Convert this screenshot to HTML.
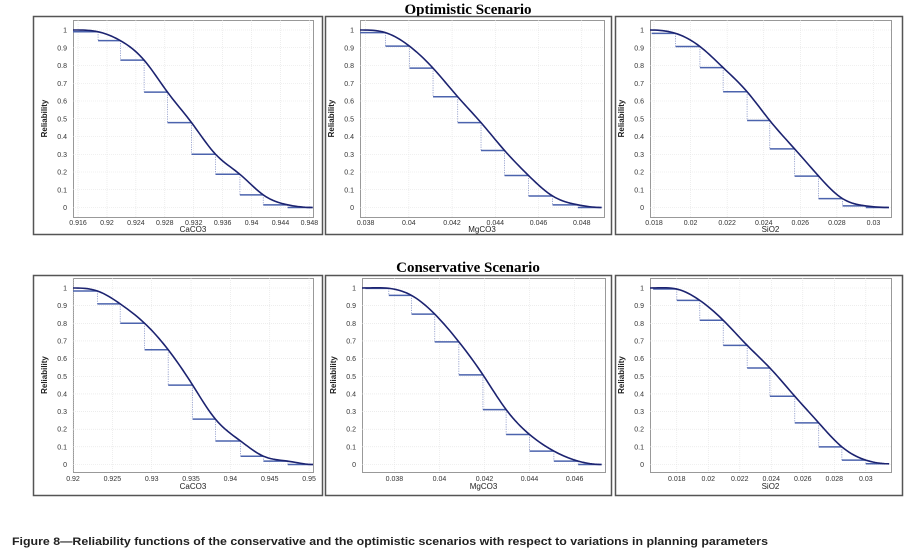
<!DOCTYPE html>
<html><head><meta charset="utf-8">
<style>
html,body{margin:0;padding:0;background:#fff;}
svg{display:block;}
</style></head>
<body>
<svg id="fig" width="908" height="557" viewBox="0 0 908 557" xmlns="http://www.w3.org/2000/svg">
<text x="468" y="14" text-anchor="middle" font-family="Liberation Serif, serif" font-weight="bold" font-size="15">Optimistic Scenario</text>
<text x="468" y="272" text-anchor="middle" font-family="Liberation Serif, serif" font-weight="bold" font-size="15">Conservative Scenario</text>
<text x="12" y="545" textLength="756" lengthAdjust="spacingAndGlyphs" font-family="Liberation Sans, sans-serif" font-weight="bold" font-size="11" fill="#222">Figure 8—Reliability functions of the conservative and the optimistic scenarios with respect to variations in planning parameters</text>
</svg>
<script>
// ---- data ----
const p1Ticks = [0.916,0.92,0.924,0.928,0.932,0.936,0.94,0.944,0.948];
const p1TickLabels = ["0.916","0.92","0.924","0.928","0.932","0.936","0.94","0.944","0.948"];
const p1Edges = [0.9153,0.91877,0.92186,0.92514,0.92837,0.9317,0.93502,0.93839,0.94162,0.94499,0.94846];
const p1Levels = [0.99,0.94,0.83,0.65,0.478,0.30,0.187,0.071,0.015,0.0];

const p2Ticks = [0.038,0.04,0.042,0.044,0.046,0.048];
const p2TickLabels = ["0.038","0.04","0.042","0.044","0.046","0.048"];
const p2Edges = [0.03774,0.03892,0.04003,0.04112,0.04226,0.04334,0.04443,0.04554,0.04665,0.04782,0.04892];
const p2Levels = [0.985,0.909,0.785,0.624,0.478,0.321,0.18,0.065,0.015,0.0];

const p3Ticks = [0.018,0.02,0.022,0.024,0.026,0.028,0.03];
const p3TickLabels = ["0.018","0.02","0.022","0.024","0.026","0.028","0.03"];
const p3Edges = [0.01787,0.01918,0.02051,0.02178,0.02309,0.02433,0.02569,0.027,0.02831,0.02958,0.03085];
const p3Levels = [0.981,0.907,0.788,0.652,0.49,0.33,0.177,0.05,0.009,0.0];

const p4Ticks = [0.92,0.925,0.93,0.935,0.94,0.945,0.95];
const p4TickLabels = ["0.92","0.925","0.93","0.935","0.94","0.945","0.95"];
const p4Edges = [0.92,0.9231,0.926,0.9291,0.9321,0.9352,0.9381,0.9413,0.9442,0.9473,0.9505];
const p4Levels = [0.983,0.91,0.80,0.65,0.45,0.257,0.133,0.047,0.019,0.0];

const p5Ticks = [0.038,0.04,0.042,0.044,0.046];
const p5TickLabels = ["0.038","0.04","0.042","0.044","0.046"];
const p5Edges = [0.03671,0.03775,0.03876,0.03979,0.04086,0.04193,0.04296,0.044,0.04508,0.04616,0.0472];
const p5Levels = [0.998,0.958,0.852,0.695,0.508,0.311,0.17,0.076,0.019,0.0];

const p6Ticks = [0.018,0.02,0.022,0.024,0.026,0.028,0.03];
const p6TickLabels = ["0.018","0.02","0.022","0.024","0.026","0.028","0.03"];
const p6Edges = [0.0165,0.018,0.01946,0.02095,0.02247,0.02391,0.02549,0.02701,0.02848,0.03,0.03148];
const p6Levels = [0.994,0.93,0.817,0.675,0.547,0.387,0.236,0.10,0.025,0.004];

const yTicks = [0,0.1,0.2,0.3,0.4,0.5,0.6,0.7,0.8,0.9,1];
const yTickLabels = ["0","0.1","0.2","0.3","0.4","0.5","0.6","0.7","0.8","0.9","1"];

const panels = [
 {id:"optimistic-caco3",name:"CaCO3",box:[33,16,322,234],plot:[73,20,313,217],y1:30,y0:207.5,xmin:0.9153,xmax:0.9485,ticks:p1Ticks,labels:p1TickLabels,edges:p1Edges,levels:p1Levels,tb:225,lb:232},
 {id:"optimistic-mgco3",name:"MgCO3",box:[325,16,611,234],plot:[360,20,604,217],y1:30,y0:207.5,xmin:0.03774,xmax:0.04903,ticks:p2Ticks,labels:p2TickLabels,edges:p2Edges,levels:p2Levels,tb:225,lb:232},
 {id:"optimistic-sio2",name:"SiO2",box:[615,16,902,234],plot:[650,20,891,217],y1:30,y0:207.5,xmin:0.01778,xmax:0.03096,ticks:p3Ticks,labels:p3TickLabels,edges:p3Edges,levels:p3Levels,tb:225,lb:232},
 {id:"conservative-caco3",name:"CaCO3",box:[33,275,322,495],plot:[73,278,313,472],y1:288,y0:464.5,xmin:0.92,xmax:0.9505,ticks:p4Ticks,labels:p4TickLabels,edges:p4Edges,levels:p4Levels,tb:481,lb:489},
 {id:"conservative-mgco3",name:"MgCO3",box:[325,275,611,495],plot:[362,278,605,472],y1:288,y0:464.5,xmin:0.03656,xmax:0.04735,ticks:p5Ticks,labels:p5TickLabels,edges:p5Edges,levels:p5Levels,tb:481,lb:489},
 {id:"conservative-sio2",name:"SiO2",box:[615,275,902,495],plot:[650,278,891,472],y1:288,y0:464.5,xmin:0.0163,xmax:0.0316,ticks:p6Ticks,labels:p6TickLabels,edges:p6Edges,levels:p6Levels,tb:481,lb:489}
];

const NS="http://www.w3.org/2000/svg";
const svg=document.getElementById('fig');
function mk(tag,attrs,parent){const e=document.createElementNS(NS,tag);for(const k in attrs)e.setAttribute(k,attrs[k]);(parent||svg).appendChild(e);return e;}

// natural cubic spline through points (pixel coords), sampled finely
function splinePath(pts){
  const n=pts.length, xs=pts.map(p=>p[0]), ys=pts.map(p=>p[1]);
  const h=[],a=new Array(n).fill(0),b=new Array(n).fill(0),c=new Array(n).fill(0),r=new Array(n).fill(0),M=new Array(n).fill(0);
  for(let i=0;i<n-1;i++) h[i]=xs[i+1]-xs[i];
  // endpoint slope zero-ish: clamped spline with zero slope at ends
  b[0]=2*h[0]; c[0]=h[0]; r[0]=6*((ys[1]-ys[0])/h[0]-0);
  for(let i=1;i<n-1;i++){a[i]=h[i-1];b[i]=2*(h[i-1]+h[i]);c[i]=h[i];r[i]=6*((ys[i+1]-ys[i])/h[i]-(ys[i]-ys[i-1])/h[i-1]);}
  a[n-1]=h[n-2]; b[n-1]=2*h[n-2]; r[n-1]=6*(0-(ys[n-1]-ys[n-2])/h[n-2]);
  for(let i=1;i<n;i++){const m=a[i]/b[i-1];b[i]-=m*c[i-1];r[i]-=m*r[i-1];}
  M[n-1]=r[n-1]/b[n-1];
  for(let i=n-2;i>=0;i--) M[i]=(r[i]-c[i]*M[i+1])/b[i];
  let d="M"+xs[0].toFixed(2)+","+ys[0].toFixed(2);
  for(let i=0;i<n-1;i++){
    const steps=10;
    for(let k=1;k<=steps;k++){
      const x=xs[i]+h[i]*k/steps, A=(xs[i+1]-x)/h[i], B=(x-xs[i])/h[i];
      let y=A*ys[i]+B*ys[i+1]+((A*A*A-A)*M[i]+(B*B*B-B)*M[i+1])*h[i]*h[i]/6;
      d+=" L"+x.toFixed(2)+","+y.toFixed(2);
    }
  }
  return d;
}

panels.forEach(p=>{
  const g=mk('g',{});
  
  
  const X=v=>p.plot[0]+(v-p.xmin)/(p.xmax-p.xmin)*(p.plot[2]-p.plot[0]);
  const Y=v=>p.y0-v*(p.y0-p.y1);
  const box=mk('rect',{x:p.box[0]+0.5,y:p.box[1]+0.5,width:p.box[2]-p.box[0],height:p.box[3]-p.box[1],fill:'#fff',stroke:'#555','stroke-width':1.5},g);
  
  
  const pa=mk('rect',{x:p.plot[0]+0.5,y:p.plot[1]+0.5,width:p.plot[2]-p.plot[0],height:p.plot[3]-p.plot[1],fill:'#fff',stroke:'#999','stroke-width':1},g);
  
  
  yTicks.forEach((v,i)=>{
    const gl=mk('line',{x1:p.plot[0],x2:p.plot[2],y1:Y(v),y2:Y(v),stroke:'#e2e2e2','stroke-width':0.6,'stroke-dasharray':'1,1'},g);
    
    
    const t=mk('text',{x:p.plot[0]-6,y:Y(v)+2.5,'text-anchor':'end','font-family':'Liberation Sans, sans-serif','font-size':7,fill:'#333'},g);
    t.textContent=yTickLabels[i];
    
    
  });
  p.ticks.forEach((v,i)=>{
    const gl=mk('line',{x1:X(v),x2:X(v),y1:p.plot[1],y2:p.plot[3],stroke:'#e2e2e2','stroke-width':0.6,'stroke-dasharray':'1,1'},g);
    
    
    const t=mk('text',{x:X(v),y:p.tb,'text-anchor':'middle','font-family':'Liberation Sans, sans-serif','font-size':7,fill:'#333'},g);
    t.textContent=p.labels[i];
    
    
  });
  const xl=mk('text',{x:(p.plot[0]+p.plot[2])/2,y:p.lb,'text-anchor':'middle','font-family':'Liberation Sans, sans-serif','font-size':8,fill:'#222'},g);
  xl.textContent=p.name;
  
  
  const cy=(p.plot[1]+p.plot[3])/2, cx=p.plot[0]-26;
  const yl=mk('text',{x:cx,y:cy,'text-anchor':'middle','font-family':'Liberation Sans, sans-serif','font-size':8,'font-weight':'bold',fill:'#222',transform:'rotate(-90 '+cx+' '+cy+')'},g);
  yl.textContent='Reliability';
  
  
  for(let i=0;i<p.levels.length;i++){
    const h=mk('line',{x1:X(p.edges[i]),x2:X(p.edges[i+1]),y1:Y(p.levels[i]),y2:Y(p.levels[i]),stroke:'#4b63ad','stroke-width':1.5},g);
    
    
    if(i<p.levels.length-1){
      const v=mk('line',{x1:X(p.edges[i+1]),x2:X(p.edges[i+1]),y1:Y(p.levels[i]),y2:Y(p.levels[i+1]),stroke:'#8a96c8','stroke-width':0.8,'stroke-dasharray':'1.2,1.2'},g);
      
      
    }
  }
  const pts=[[X(p.xmin),Y(1)]];
  for(let i=0;i<p.levels.length;i++) pts.push([X(p.edges[i+1]),Y(p.levels[i])]);
  const c=mk('path',{d:splinePath(pts),fill:'none',stroke:'#1c2370','stroke-width':1.6},g);
  
  
});
</script>
</body></html>
